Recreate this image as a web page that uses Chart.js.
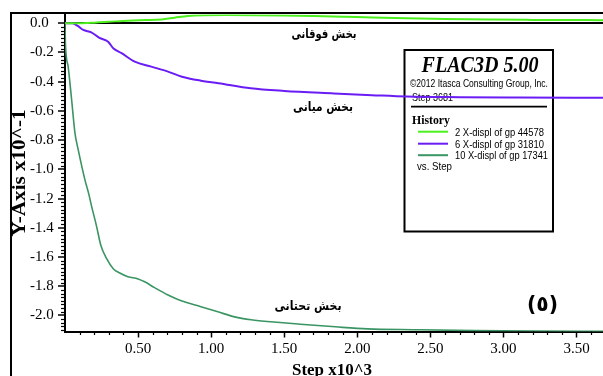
<!DOCTYPE html>
<html>
<head>
<meta charset="utf-8">
<script src="https://cdn.jsdelivr.net/npm/chart.js@4.4.1/dist/chart.umd.min.js"></script>
<style>
  html, body { margin: 0; padding: 0; background: #fff; }
  #wrap { position: relative; width: 603px; height: 376px; }
</style>
</head>
<body>
<div id="wrap"><canvas id="histChart"></canvas></div>
<script>
// history 2 : X-displ of gp 44578 (upper part)
const upperSteps = [0, 0.1, 0.2, 0.3, 0.43, 0.55, 0.66, 0.75, 0.84, 0.95, 1.1, 1.3, 1.5, 1.7, 1.9, 2.1, 2.34, 2.6, 2.9, 3.2, 3.45, 3.681];
const upperDispl = [0, 0, 0.004, 0.01, 0.018, 0.022, 0.026, 0.038, 0.05, 0.055, 0.056, 0.055, 0.053, 0.05, 0.045, 0.04, 0.034, 0.029, 0.025, 0.023, 0.022, 0.021];

// history 6 : X-displ of gp 31810 (middle part)
const middleSteps = [0, 0.05, 0.09, 0.125, 0.18, 0.236, 0.295, 0.33, 0.387, 0.477, 0.59, 0.705, 0.8, 0.93, 1.05, 1.27, 1.5, 1.84, 2.1, 2.34, 2.7, 3.1, 3.681];
const middleDispl = [0, 0, -0.02, -0.046, -0.062, -0.10, -0.126, -0.171, -0.205, -0.263, -0.297, -0.331, -0.366, -0.393, -0.41, -0.445, -0.463, -0.48, -0.492, -0.502, -0.506, -0.508, -0.51];

// history 10 : X-displ of gp 17341 (lower part)
const lowerSteps = [0, 0.003, 0.022, 0.045, 0.068, 0.091, 0.136, 0.163, 0.18, 0.216, 0.245, 0.284, 0.33, 0.375, 0.43, 0.5, 0.545, 0.613, 0.705, 0.795, 0.93, 1.046, 1.16, 1.273, 1.45, 1.61, 1.85, 2.07, 2.4, 2.8, 3.2, 3.681];
const lowerDispl = [0, -0.14, -0.3, -0.52, -0.75, -0.868, -1.07, -1.17, -1.245, -1.39, -1.52, -1.61, -1.68, -1.71, -1.735, -1.75, -1.77, -1.81, -1.86, -1.9, -1.94, -1.975, -2.01, -2.03, -2.047, -2.06, -2.078, -2.092, -2.098, -2.104, -2.107, -2.109];

const xTickValues = [0.5, 1.0, 1.5, 2.0, 2.5, 3.0, 3.5];
const yTickValues = [0, -0.2, -0.4, -0.6, -0.8, -1.0, -1.2, -1.4, -1.6, -1.8, -2.0];

const historyLabels = ['2 X-displ of gp 44578', '6 X-displ of gp 31810', '10 X-displ of gp 17341'];
const historyColors = ['#4cf01e', '#6a1cf5', '#3a9563'];
const partLabels = ['بخش فوقانی', 'بخش میانی', 'بخش تحتانی'];

const SERIF = "'Liberation Serif', 'Times New Roman', serif";
const SANS = "'Liberation Sans', Arial, sans-serif";
const ARABIC = "'DejaVu Sans', sans-serif";

function toPoints(steps, vals) {
  return steps.map((s, i) => ({ x: s, y: vals[i] }));
}

// draws text squeezed/stretched horizontally to a given width
function fitText(ctx, text, x, y, width, font, align) {
  ctx.save();
  ctx.font = font;
  const w = ctx.measureText(text).width;
  ctx.translate(x, y);
  ctx.scale(width / w, 1);
  ctx.textAlign = align || 'left';
  ctx.fillText(text, 0, 0);
  ctx.restore();
}

// FLAC3D info box, drawn under the curves
const infoBox = {
  id: 'infoBox',
  beforeDatasetsDraw(chart) {
    const ctx = chart.ctx;
    ctx.save();
    ctx.fillStyle = '#fff';
    ctx.fillRect(404.5, 50, 148.5, 181.5);
    ctx.strokeStyle = '#000';
    ctx.lineWidth = 2;
    ctx.strokeRect(404.5, 50, 148.5, 181.5);

    ctx.fillStyle = '#000';
    ctx.textBaseline = 'alphabetic';
    fitText(ctx, 'FLAC3D 5.00', 480, 71.5, 117, 'italic bold 23px ' + SERIF, 'center');
    fitText(ctx, '©2012 Itasca Consulting Group, Inc.', 410, 86.5, 138, '10px ' + SANS);
    fitText(ctx, 'Step 3681', 412, 101, 41, '11px ' + SANS);

    ctx.beginPath();
    ctx.moveTo(411, 106.7);
    ctx.lineTo(547, 106.7);
    ctx.lineWidth = 1.8;
    ctx.stroke();

    fitText(ctx, 'History', 412, 123.5, 38, 'bold 13px ' + SERIF);

    const rows = [131.7, 143.7, 155.2];
    const widths = [89, 89, 93];
    historyLabels.forEach((lbl, i) => {
      ctx.beginPath();
      ctx.moveTo(418, rows[i]);
      ctx.lineTo(448, rows[i]);
      ctx.strokeStyle = historyColors[i];
      ctx.lineWidth = 2;
      ctx.stroke();
      fitText(ctx, lbl, 455, rows[i] + 4, widths[i], '11px ' + SANS);
    });
    fitText(ctx, 'vs. Step', 417, 170, 35, '11px ' + SANS);
    ctx.restore();
  }
};

// minor ticks, axis titles, outer frame and part labels
const decorations = {
  id: 'decorations',
  afterDraw(chart) {
    const ctx = chart.ctx;
    const xs = chart.scales.x;
    const ys = chart.scales.y;
    ctx.save();
    ctx.strokeStyle = '#000';
    ctx.lineWidth = 1.2;

    // minor y ticks every 0.025
    for (let i = 0; i <= 84; i++) {
      const v = -i * 0.025;
      if (i % 8 === 0) continue;
      const py = Math.round(ys.getPixelForValue(v)) + 0.5;
      ctx.beginPath();
      ctx.moveTo(ys.right, py);
      ctx.lineTo(ys.right - 4, py);
      ctx.stroke();
    }
    // minor x ticks every 0.1
    for (let i = 1; i <= 36; i++) {
      if (i % 5 === 0) continue;
      const px = Math.round(xs.getPixelForValue(i * 0.1)) + 0.5;
      ctx.beginPath();
      ctx.moveTo(px, xs.top);
      ctx.lineTo(px, xs.top + 3.5);
      ctx.stroke();
    }

    // outer frame
    ctx.lineWidth = 2;
    ctx.beginPath();
    ctx.moveTo(11, 376);
    ctx.lineTo(11, 13);
    ctx.lineTo(603, 13);
    ctx.stroke();

    ctx.fillStyle = '#000';
    // axis titles
    ctx.save();
    ctx.translate(20, 173);
    ctx.rotate(-Math.PI / 2);
    ctx.textBaseline = 'middle';
    fitText(ctx, 'Y-Axis x10^-1', 0, 0, 127, 'bold 19px ' + SERIF, 'center');
    ctx.restore();
    ctx.textBaseline = 'alphabetic';
    fitText(ctx, 'Step x10^3', 332, 375, 80, 'bold 17px ' + SERIF, 'center');

    // part labels
    ctx.textBaseline = 'middle';
    fitText(ctx, partLabels[0], 324, 35, 65, 'bold 13px ' + ARABIC, 'center');
    fitText(ctx, partLabels[1], 323, 107.5, 60, 'bold 13px ' + ARABIC, 'center');
    fitText(ctx, partLabels[2], 308, 306.5, 67, 'bold 13px ' + ARABIC, 'center');
    fitText(ctx, '(٥)', 542.5, 305, 31, 'bold 22px ' + ARABIC, 'center');
    ctx.restore();
  }
};

new Chart(document.getElementById('histChart'), {
  type: 'line',
  data: {
    datasets: [
      { label: historyLabels[0], data: toPoints(upperSteps, upperDispl), borderColor: historyColors[0], borderWidth: 2 },
      { label: historyLabels[1], data: toPoints(middleSteps, middleDispl), borderColor: historyColors[1], borderWidth: 2 },
      { label: historyLabels[2], data: toPoints(lowerSteps, lowerDispl), borderColor: historyColors[2], borderWidth: 1.6 }
    ]
  },
  options: {
    responsive: true,
    maintainAspectRatio: false,
    animation: false,
    elements: {
      point: { radius: 0 },
      line: { cubicInterpolationMode: 'monotone', fill: false }
    },
    layout: { padding: { left: 30, top: 14.5, right: 0, bottom: 0 } },
    plugins: {
      legend: { display: false },
      tooltip: { enabled: false }
    },
    scales: {
      x: {
        type: 'linear',
        min: 0,
        max: 3.681,
        afterBuildTicks: s => { s.ticks = xTickValues.map(v => ({ value: v })); },
        afterFit: s => { s.height = 44.5; },
        border: { display: true, color: '#000', width: 2 },
        grid: { drawOnChartArea: false, tickLength: 6, tickColor: '#000', tickWidth: 1.5 },
        ticks: {
          maxRotation: 0,
          autoSkip: false,
          padding: 3,
          color: '#000',
          font: { family: SERIF, size: 15 },
          callback: v => v.toFixed(2)
        }
      },
      y: {
        type: 'linear',
        min: -2.11,
        max: 0.06,
        afterBuildTicks: s => { s.ticks = yTickValues.map(v => ({ value: v })); },
        afterFit: s => { s.width = 35; },
        border: { display: true, color: '#000', width: 2 },
        grid: {
          drawOnChartArea: true,
          color: c => (c.tick && c.tick.value === 0 ? '#000' : 'rgba(0,0,0,0)'),
          lineWidth: 2,
          tickLength: 7,
          tickColor: '#000',
          tickWidth: 1.5
        },
        ticks: {
          autoSkip: false,
          crossAlign: 'far',
          color: '#000',
          font: { family: SERIF, size: 15 },
          callback: v => (v === 0 ? '0.0' : v.toFixed(1))
        }
      }
    }
  },
  plugins: [infoBox, decorations]
});
</script>
</body>
</html>
